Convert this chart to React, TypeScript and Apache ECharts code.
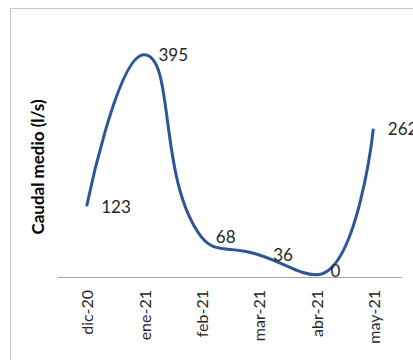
import React, { useEffect, useRef } from "react";
import * as echarts from "echarts";

const categories = ["dic-20", "ene-21", "feb-21", "mar-21", "abr-21", "may-21"];
const caudal = [123, 395, 68, 36, 0, 262];
const yTitle = "Caudal medio (l/s)";

export default function App() {
  const ref = useRef<HTMLDivElement>(null);
  useEffect(() => {
    if (!ref.current) return;
    const chart = echarts.init(ref.current, undefined, { renderer: "svg" });
    chart.setOption({
      animation: false,
      backgroundColor: "#ffffff",
      textStyle: { fontFamily: "Lato" },
      graphic: [
        {
          type: "rect",
          shape: { x: 10.5, y: 8.5, width: 600, height: 600 },
          style: { fill: "none", stroke: "#c6c6c6", lineWidth: 1 },
          silent: true,
        },
        {
          type: "text",
          x: 37,
          y: 167,
          rotation: Math.PI / 2,
          style: {
            text: yTitle,
            font: "bold 17px Lato",
            fill: "#000000",
            align: "center",
            verticalAlign: "middle",
          },
        },
      ],
      grid: { left: 58, right: 11, top: 24, bottom: 83, containLabel: false },
      xAxis: {
        type: "category",
        data: categories,
        boundaryGap: true,
        axisLine: { onZero: false, lineStyle: { color: "#a6a6a6", width: 1 } },
        axisTick: { show: false },
        axisLabel: {
          rotate: 90,
          margin: 13,
          fontSize: 16,
          fontFamily: "Lato",
          color: "#262626",
        },
      },
      yAxis: {
        type: "value",
        min: -4,
        max: 450,
        show: false,
        splitLine: { show: false },
      },
      series: [
        {
          type: "line",
          data: caudal.map((v) =>
            v === 0 ? { value: v, label: { offset: [0, -4] } } : v
          ),
          smooth: 0.5,
          clip: false,
          symbol: "circle",
          symbolSize: 1,
          showSymbol: true,
          itemStyle: { color: "rgba(0,0,0,0)", borderWidth: 0 },
          lineStyle: { color: "#2F5597", width: 3 },
          label: {
            show: true,
            position: "right",
            distance: 14,
            fontSize: 17,
            fontFamily: "Lato",
            color: "#262626",
          },
        },
      ],
    });
    return () => chart.dispose();
  }, []);
  return (
    <div
      ref={ref}
      style={{ position: "fixed", left: 0, top: 0, width: 413, height: 360 }}
    />
  );
}
